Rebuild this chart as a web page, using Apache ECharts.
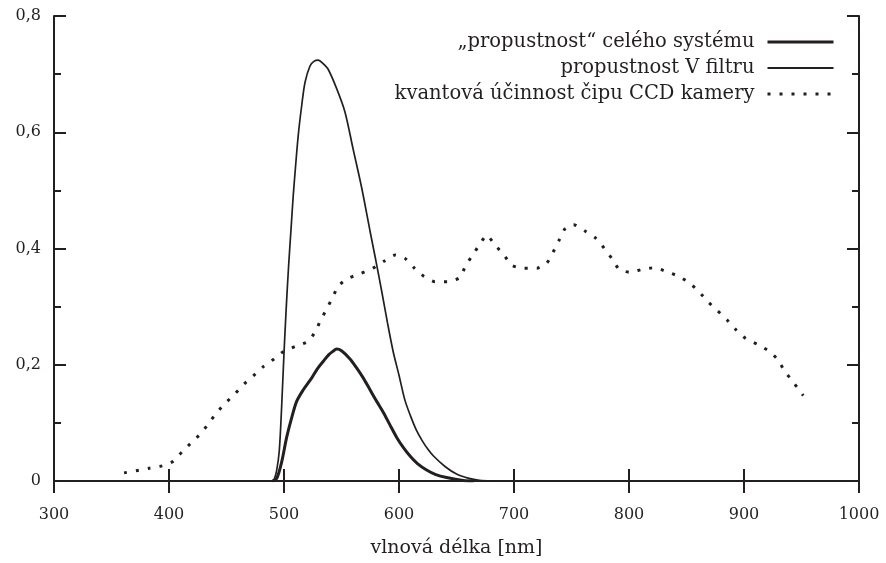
<!DOCTYPE html>
<html>
<head>
<meta charset="utf-8">
<script src="https://cdn.jsdelivr.net/npm/echarts@6/dist/echarts.min.js"></script>
<style>html,body{margin:0;padding:0;background:#fff}#c{width:886px;height:563px}</style>
</head>
<body>
<div id="c"></div>
<script>
// Series names
var seriesNames = ['\u201Epropustnost\u201C cel\u00E9ho syst\u00E9mu', 'propustnost V filtru', 'kvantov\u00E1 \u00FA\u010Dinnost \u010Dipu CCD kamery'];

// "propustnost" celého systému (thick)
var sysX = [490, 493.6, 498, 502.3, 506.7, 511, 516.8, 524, 529, 534.2, 538.8, 542.5, 545.8, 550, 557.4, 563, 569, 574.8, 580.6, 586.4, 592, 598, 604, 609.6, 616, 624, 632, 641.4, 656, 665];
var sysY = [0, 0.004, 0.033, 0.075, 0.109, 0.137, 0.157, 0.177, 0.193, 0.206, 0.217, 0.223, 0.227, 0.224, 0.210, 0.195, 0.177, 0.157, 0.137, 0.118, 0.097, 0.075, 0.057, 0.043, 0.030, 0.019, 0.011, 0.006, 0.001, 0];

// propustnost V filtru (thin)
var vX = [490, 491.3, 493.6, 495.9, 498, 500, 502, 504, 506, 508, 510, 512.4, 515.4, 518.3, 522.6, 526, 529.8, 534, 538.5, 545.8, 553, 560, 567.5, 575, 580, 585, 590, 595, 600, 605, 610, 615, 620, 625, 630, 640, 650, 660, 670, 680];
var vY = [0, 0.002, 0.018, 0.052, 0.13, 0.22, 0.30, 0.37, 0.43, 0.49, 0.54, 0.595, 0.646, 0.686, 0.714, 0.722, 0.724, 0.718, 0.708, 0.675, 0.635, 0.572, 0.505, 0.428, 0.378, 0.326, 0.272, 0.222, 0.182, 0.14, 0.112, 0.088, 0.07, 0.055, 0.043, 0.025, 0.012, 0.005, 0.001, 0];

// kvantová účinnost čipu CCD kamery (dotted)
var ccdX = [360.9, 371.3, 382.6, 393.9, 403.7, 411.3, 420, 427.8, 434.8, 441.7, 449.6, 457.4, 465.3, 473.3, 481.5, 491.3, 499.7, 510.4, 520.8, 527.3, 531.9, 537.2, 542.5, 547.8, 556.4, 566.7, 577.3, 586.9, 596.8, 605.2, 613, 621.7, 631.3, 642.5, 653, 658, 664.2, 670.4, 676.3, 683.5, 691.2, 698.1, 708.6, 719.8, 728.5, 734.1, 739.4, 744.7, 751.8, 761.7, 771, 778.2, 785, 791.5, 800.9, 811.4, 822.3, 832.8, 843.4, 853, 861.1, 868.9, 877, 885.3, 893.1, 901.5, 911.7, 922, 929.7, 935.3, 942.5, 951.5];
var ccdY = [0.014, 0.0175, 0.022, 0.026, 0.034, 0.050, 0.067, 0.082, 0.100, 0.118, 0.135, 0.150, 0.167, 0.181, 0.196, 0.210, 0.223, 0.232, 0.240, 0.257, 0.277, 0.296, 0.317, 0.337, 0.349, 0.357, 0.366, 0.378, 0.389, 0.383, 0.367, 0.352, 0.343, 0.343, 0.350, 0.371, 0.389, 0.408, 0.423, 0.406, 0.389, 0.371, 0.366, 0.366, 0.375, 0.394, 0.415, 0.435, 0.441, 0.430, 0.418, 0.401, 0.383, 0.364, 0.359, 0.364, 0.367, 0.360, 0.352, 0.340, 0.325, 0.308, 0.293, 0.277, 0.260, 0.245, 0.235, 0.223, 0.208, 0.189, 0.171, 0.147];

var xTitle = 'vlnov\u00E1 d\u00E9lka [nm]';

function zip(a, b) { return a.map(function (v, i) { return [v, b[i]]; }); }

var ink = '#231f20';
var font = 'DejaVu Serif';
var chart = echarts.init(document.getElementById('c'), null, { renderer: 'canvas' });

var axisCommon = {
  axisLine: { show: true, lineStyle: { color: ink, width: 2 } },
  splitLine: { show: false }
};
var tickStyle = { show: true, inside: true, length: 12, lineStyle: { color: ink, width: 2 } };
var minorStyle = { show: true, splitNumber: 2, length: 7, lineStyle: { color: ink, width: 2 } };

chart.setOption({
  backgroundColor: '#fff',
  animation: false,
  grid: { left: 54, right: 27, top: 16, bottom: 76, containLabel: false },
  legend: {
    orient: 'vertical',
    align: 'right',
    right: 46,
    top: 27,
    itemWidth: 66,
    itemHeight: 14,
    itemGap: 6,
    selectedMode: false,
    itemStyle: { opacity: 0 },
    textStyle: { fontFamily: font, fontSize: 19.5, lineHeight: 20, color: ink, padding: [0, 8, 0, 0] },
    data: [
      { name: seriesNames[0], lineStyle: { width: 3 } },
      { name: seriesNames[1], lineStyle: { width: 2 } },
      { name: seriesNames[2], lineStyle: { width: 3 } }
    ]
  },
  xAxis: [
    Object.assign({
      type: 'value', min: 300, max: 1000, interval: 100, position: 'bottom',
      name: xTitle, nameLocation: 'middle', nameGap: 58,
      nameTextStyle: { fontFamily: font, fontSize: 19, color: ink },
      axisTick: tickStyle,
      axisLabel: { fontFamily: font, fontSize: 16, color: ink, margin: 26,
        formatter: function (v) { return String(v); } }
    }, axisCommon),
    Object.assign({
      type: 'value', min: 300, max: 1000, interval: 100, position: 'top',
      axisTick: tickStyle, axisLabel: { show: false }
    }, axisCommon)
  ],
  yAxis: [
    Object.assign({
      type: 'value', min: 0, max: 0.8, interval: 0.2, position: 'left',
      axisTick: tickStyle, minorTick: minorStyle, minorSplitLine: { show: false },
      axisLabel: { fontFamily: font, fontSize: 16, color: ink, margin: 13,
        formatter: function (v) { return String(+v.toFixed(1)).replace('.', ','); } }
    }, axisCommon),
    Object.assign({
      type: 'value', min: 0, max: 0.8, interval: 0.2, position: 'right',
      axisTick: tickStyle, minorTick: minorStyle, minorSplitLine: { show: false },
      axisLabel: { show: false }
    }, axisCommon)
  ],
  series: [
    {
      name: seriesNames[0], type: 'line', xAxisIndex: 0, yAxisIndex: 0,
      data: zip(sysX, sysY), showSymbol: false, symbol: 'none', smooth: 0.3,
      lineStyle: { color: ink, width: 3 }, itemStyle: { color: ink }
    },
    {
      name: seriesNames[1], type: 'line', xAxisIndex: 0, yAxisIndex: 0,
      data: zip(vX, vY), showSymbol: false, symbol: 'none', smooth: 0.3,
      lineStyle: { color: ink, width: 1.7 }, itemStyle: { color: ink }
    },
    {
      name: seriesNames[2], type: 'line', xAxisIndex: 0, yAxisIndex: 0,
      data: zip(ccdX, ccdY), showSymbol: false, symbol: 'none', smooth: 0.2,
      lineStyle: { color: ink, width: 3, type: [3, 9], cap: 'butt' }, itemStyle: { color: ink }
    }
  ]
});
</script>
</body>
</html>
